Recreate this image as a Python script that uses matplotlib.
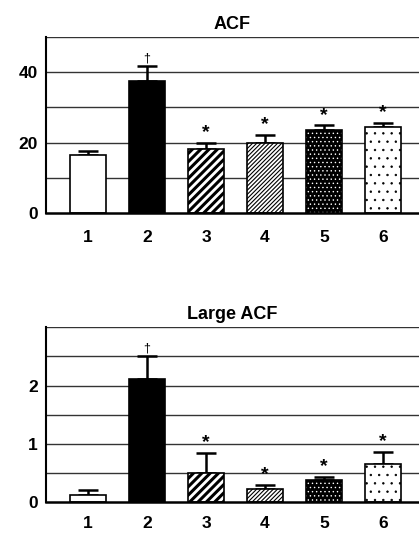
import matplotlib.pyplot as plt

plt.rcParams['font.family'] = ['Liberation Sans', 'DejaVu Sans']

groups = ['1', '2', '3', '4', '5', '6']
acf = [16.6, 37.4, 18.2, 19.8, 23.6, 24.4]
acf_err = [1.0, 4.3, 1.8, 2.4, 1.3, 1.3]
large_acf = [0.125, 2.115, 0.50, 0.22, 0.39, 0.66]
large_acf_err = [0.085, 0.385, 0.34, 0.08, 0.05, 0.21]
marks = ['', '\u2020', '*', '*', '*', '*']

# face colour, hatch, hatch colour, hatch linewidth for each group
styles = [('white', None, 'black', 1.0),
          ('black', None, 'black', 1.0),
          ('white', '////', 'black', 2.2),
          ('white', '////////', 'black', 0.8),
          ('black', '....', 'white', 0.5),
          ('white', '..', 'black', 0.5)]


def drawPanel(ax, vals, errs, title, ymax, grid_step, ticks, xpad):
    x = list(range(1, len(vals) + 1))
    for xi, v, (fc, h, hc, hlw) in zip(x, vals, styles):
        ax.bar(xi, v, width=0.61, color=fc, edgecolor='none', zorder=2)
        if h:
            plt.rcParams['hatch.linewidth'] = hlw
            ax.bar(xi, v, width=0.61, color='none', edgecolor=hc, hatch=h,
                   linewidth=0, zorder=3)
        ax.bar(xi, v, width=0.61, color='none', edgecolor='black',
               linewidth=1.2, zorder=4)
    ax.errorbar(x, vals, yerr=[[0] * len(errs), errs], fmt='none',
                ecolor='black', elinewidth=1.8, capsize=7.5, capthick=1.8,
                zorder=1)
    for xi, v, e, m in zip(x, vals, errs, marks):
        if m:
            ax.text(xi, v + e + ymax * 0.01, m, ha='center', va='bottom',
                    fontsize=14 if m == '*' else 9,
                    fontweight='bold' if m == '*' else 'normal')
    g = grid_step
    while g < ymax + 1e-9:
        ax.axhline(g, color='#333333', linewidth=1.0, zorder=0)
        g += grid_step
    ax.set_xlim(0.29, 6.61)
    ax.set_ylim(0, ymax)
    ax.set_yticks(ticks)
    ax.set_xticks(x)
    ax.set_xticklabels(groups)
    ax.tick_params(length=0, labelsize=12.5)
    ax.tick_params(axis='x', pad=xpad)
    ax.tick_params(axis='y', pad=6)
    for lab in ax.get_xticklabels() + ax.get_yticklabels():
        lab.set_fontweight('bold')
    ax.spines['top'].set_visible(False)
    ax.spines['right'].set_visible(False)
    ax.spines['left'].set_linewidth(1.5)
    ax.spines['bottom'].set_linewidth(1.8)
    ax.set_title(title, fontsize=13, fontweight='bold', pad=6)


fig = plt.figure(figsize=(4.19, 5.33), dpi=100)
ax1 = fig.add_axes([0.110, 0.6004, 0.890, 0.3302])
ax2 = fig.add_axes([0.110, 0.0576, 0.890, 0.3283])

drawPanel(ax1, acf, acf_err, 'ACF', 50, 10, [0, 20, 40], 12)
drawPanel(ax2, large_acf, large_acf_err, 'Large ACF', 3.0, 0.5, [0, 1, 2], 10)

fig.savefig('out.png', dpi=100)
